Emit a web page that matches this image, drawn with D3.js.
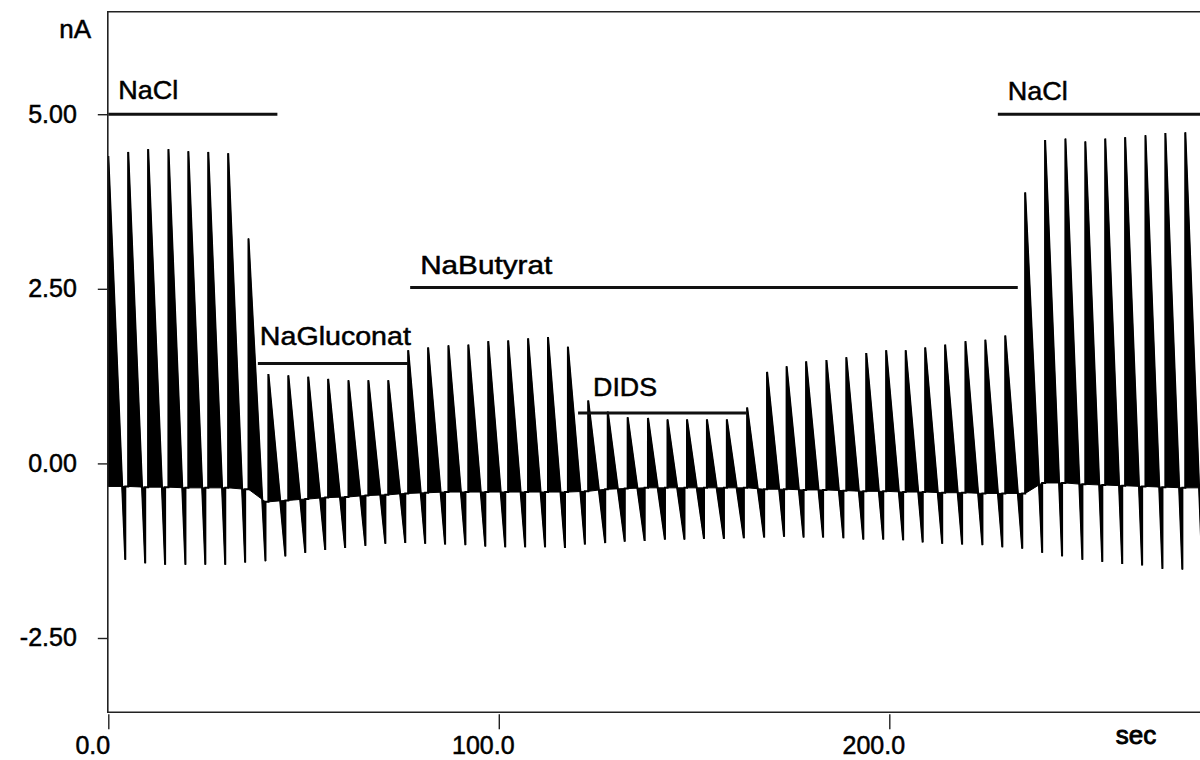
<!DOCTYPE html>
<html><head><meta charset="utf-8">
<script src="https://cdn.jsdelivr.net/npm/d3@7"></script>
<style>
body{margin:0;background:#fff}
text{font-family:"Liberation Sans",Arial,Helvetica,sans-serif;fill:#000;stroke:#000;stroke-width:0.5px}
</style>
</head><body><svg id="c" width="1200" height="760"></svg>
<script>
// ---- data ----
const spikeTimes = [0,5.1,10.2,15.4,20.5, 25.6,30.7,35.9,41.0,46.1, 51.2,56.3,61.5,66.6,71.7,
  76.8,81.9,87.1,92.2,97.3, 102.4,107.5,112.6,117.7,122.9, 127.9,133.0,138.2,143.2,148.2,
  153.3,158.4,163.6,168.7,173.7, 178.7,183.9,189.0,194.1,199.2, 204.2,209.2,214.3,219.5,224.6,
  229.7,234.8,239.9,245.1,250.2, 255.3,260.4,265.6,270.7,275.8];
const peakValues = [4.40,4.46,4.50,4.50,4.47, 4.46,4.44,3.22,1.28,1.26, 1.24,1.21,1.19,1.19,1.19,
  1.62,1.66,1.69,1.70,1.75, 1.76,1.79,1.81,1.67,0.90, 0.74,0.66,0.65,0.63,0.63,
  0.63,0.63,0.80,1.31,1.39, 1.46,1.48,1.52,1.58,1.62, 1.62,1.66,1.70,1.75,1.77,
  1.83,3.88,4.63,4.65,4.61, 4.65,4.67,4.70,4.73,4.74];
const minValues = [-1.38,-1.43,-1.45,-1.45,-1.45, -1.45,-1.42,-1.40,-1.33,-1.28, -1.24,-1.21,-1.18,-1.15,-1.14,
  -1.15,-1.16,-1.17,-1.19,-1.20, -1.20,-1.20,-1.21,-1.16,-1.14, -1.12,-1.11,-1.09,-1.09,-1.08,
  -1.08,-1.07,-1.06,-1.05,-1.06, -1.06,-1.07,-1.09,-1.09,-1.10, -1.13,-1.15,-1.16,-1.17,-1.20,
  -1.22,-1.28,-1.33,-1.38,-1.41, -1.44,-1.46,-1.51,-1.52,-1.52];
const baseValues = [-0.33,-0.33,-0.34,-0.34,-0.35, -0.35,-0.35,-0.37,-0.55,-0.53, -0.51,-0.49,-0.48,-0.46,-0.45,
  -0.43,-0.42,-0.41,-0.41,-0.41, -0.41,-0.41,-0.41,-0.41,-0.40, -0.37,-0.36,-0.35,-0.35,-0.35,
  -0.35,-0.35,-0.35,-0.37,-0.37, -0.38,-0.38,-0.39,-0.40,-0.40, -0.41,-0.41,-0.42,-0.42,-0.43,
  -0.43,-0.43,-0.28,-0.28,-0.30, -0.31,-0.32,-0.33,-0.34,-0.35];
const rampDuration = 4.35; // s, from jump to negative tip

const yTickValues = [5, 2.5, 0, -2.5];
const yTickLabels = ["5.00", "2.50", "0.00", "-2.50"];
const xTickValues = [0, 100, 200];
const xTickLabels = ["0.0", "100.0", "200.0"];

const solutionNames = ["NaCl", "NaGluconat", "NaButyrat", "DIDS", "NaCl"];
const solutionStart = [0, 38.3, 77.3, 120.3, 227.8];
const solutionEnd   = [43.3, 76.8, 232.9, 163.3, 280];
const solutionLevel = [5.0, 1.43, 2.52, 0.72, 5.0];

// ---- layout ----
const W = 1200, H = 760;
const pLeft = 107.8, pTop = 11.7, pBottom = 712.3, pRight = 1200;
const svg = d3.select("#c");
const x = d3.scaleLinear().domain([0, 280]).range([108.3, 1201.7]);
const y = d3.scaleLinear().domain([-3.564, 6.468]).range([pBottom, pTop]);
const labelDx = [10, 2, 10, 15, 10];
const labelDy = [-15, -19, -13, -17, -14];
const labelLen = [60, 151, 132, 64, 60];

svg.append("defs").append("clipPath").attr("id", "plot")
  .append("rect").attr("x", pLeft).attr("y", pTop).attr("width", pRight - pLeft).attr("height", pBottom - pTop);

const g = svg.append("g").attr("clip-path", "url(#plot)");

// trace vertices
const verts = [];
const lobes = [];
spikeTimes.forEach((t, k) => {
  const b = baseValues[k];
  const nb = k + 1 < baseValues.length ? baseValues[k + 1] : b;
  const tEnd = k + 1 < spikeTimes.length ? spikeTimes[k + 1] : 282;
  const pts = [[t, b], [t, peakValues[k]], [t + rampDuration, minValues[k]], [t + rampDuration, nb]];
  lobes.push(pts);
  pts.forEach(p => verts.push(p));
  verts.push([tEnd, nb]);
});
const line = d3.line().x(d => x(d[0])).y(d => y(d[1]));

g.selectAll("path.lobe").data(lobes).join("path")
  .attr("class", "lobe")
  .attr("d", d => line(d) + "Z")
  .attr("fill", "#000").attr("stroke", "#000").attr("stroke-width", 1).attr("stroke-linejoin", "miter");

g.append("path").attr("d", line(verts))
  .attr("fill", "none").attr("stroke", "#000").attr("stroke-width", 2).attr("stroke-linejoin", "miter");

// solution bars
solutionNames.forEach((name, i) => {
  const x0 = x(solutionStart[i]), x1 = Math.min(x(solutionEnd[i]), W), yy = y(solutionLevel[i]);
  svg.append("line").attr("x1", x0).attr("x2", x1).attr("y1", yy).attr("y2", yy)
    .attr("stroke", "#111").attr("stroke-width", 3);
  svg.append("text").attr("x", x0 + labelDx[i]).attr("y", yy + labelDy[i])
    .attr("font-size", 26).attr("textLength", labelLen[i]).attr("lengthAdjust", "spacingAndGlyphs")
    .text(name);
});

// frame
svg.append("path")
  .attr("d", `M${W},${pTop}H${pLeft}V${pBottom}H${W}`)
  .attr("fill", "none").attr("stroke", "#222").attr("stroke-width", 1.6);

// y axis
const yAxis = d3.axisLeft(y).tickValues(yTickValues)
  .tickFormat((d, i) => yTickLabels[i]).tickSize(10).tickPadding(21);
const ya = svg.append("g").attr("transform", `translate(${pLeft},0)`).call(yAxis);
ya.select(".domain").remove();
ya.selectAll("line").attr("stroke", "#222").attr("stroke-width", 1.4);
ya.selectAll("text").attr("font-size", 25).attr("fill", "#000")
  .style("font-family", '"Liberation Sans",Arial,sans-serif');

// x axis
const xAxis = d3.axisBottom(x).tickValues(xTickValues)
  .tickFormat((d, i) => xTickLabels[i]).tickSize(15).tickPadding(7);
const xa = svg.append("g").attr("transform", `translate(0,${pBottom + 2})`).call(xAxis);
xa.select(".domain").remove();
xa.selectAll("line").attr("stroke", "#222").attr("stroke-width", 1.4);
xa.selectAll("text").attr("font-size", 25).attr("fill", "#000").attr("dx", -16)
  .style("font-family", '"Liberation Sans",Arial,sans-serif');

// unit labels
svg.append("text").attr("x", 91).attr("y", 38).attr("text-anchor", "end").attr("font-size", 26).text("nA");
svg.append("text").attr("x", 1136).attr("y", 744).attr("text-anchor", "middle").attr("font-size", 26)
  .style("stroke-width", "0.9px").text("sec");
</script>
</body></html>
